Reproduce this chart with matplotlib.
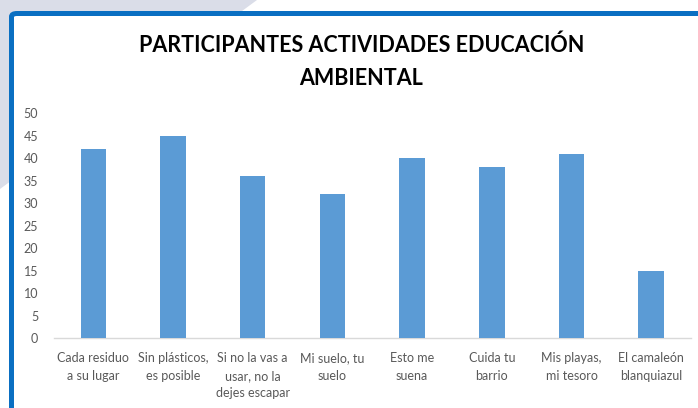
import matplotlib
matplotlib.use("Agg")
import matplotlib.pyplot as plt
from matplotlib.patches import Polygon, FancyBboxPatch

categories = [
    "Cada residuo\na su lugar",
    "Sin plásticos,\nes posible",
    "Si no la vas a\nusar, no la\ndejes escapar",
    "Mi suelo, tu\nsuelo",
    "Esto me\nsuena",
    "Cuida tu\nbarrio",
    "Mis playas,\nmi tesoro",
    "El camaleón\nblanquiazul",
]
participants = [42, 45, 36, 32, 40, 38, 41, 15]
y_ticks = [0, 5, 10, 15, 20, 25, 30, 35, 40, 45, 50]
title = "PARTICIPANTES ACTIVIDADES EDUCACIÓN\nAMBIENTAL"

W, H = 698, 408
plt.rcParams['font.family'] = ['Lato', 'DejaVu Sans']
fig = plt.figure(figsize=(W / 100, H / 100), dpi=100)
fig.patch.set_facecolor("white")

def fx(x):
    return x / W

def fy(y):
    return 1 - y / H

# background triangle
fig.patches.append(Polygon([(fx(0), fy(0)), (fx(257), fy(0)), (fx(0), fy(189))],
                           closed=True, facecolor="#dadde8", edgecolor="none",
                           transform=fig.transFigure, zorder=0))
# blue frame
fig.patches.append(FancyBboxPatch((fx(11.5), fy(430)), fx(720) - fx(11.5), fy(13.5) - fy(430),
                                  boxstyle="round,pad=0,rounding_size=0.008",
                                  facecolor="white", edgecolor="#0a6fc2", linewidth=3.6,
                                  transform=fig.transFigure, zorder=1))

ax = fig.add_axes([fx(53.5), fy(338.3), fx(691) - fx(53.5), (338.3 - 113.3) / H])
ax.set_zorder(2)
ax.patch.set_alpha(0)
x = range(len(categories))
ax.bar(x, participants, width=0.32, color="#5b9bd5", zorder=3)
ax.set_xlim(-0.5, len(categories) - 0.5)
ax.set_ylim(0, 50)
ax.set_yticks(y_ticks)
ax.set_xticks(list(x))
ax.set_xticklabels(categories, linespacing=1.55)
for s in ["top", "right", "left"]:
    ax.spines[s].set_visible(False)
ax.spines["bottom"].set_color("#d9d9d9")
ax.spines["bottom"].set_linewidth(1.0)
ax.tick_params(axis="both", length=0, labelsize=9, labelcolor="#595959")
ax.tick_params(axis="y", pad=11)
ax.tick_params(axis="x", pad=10)

fig.text(fx(361.5), fy(62), title, ha="center", va="center", fontsize=15.5,
         fontweight="bold", color="black", linespacing=1.68, zorder=5)

fig.savefig("out.png", dpi=100)
